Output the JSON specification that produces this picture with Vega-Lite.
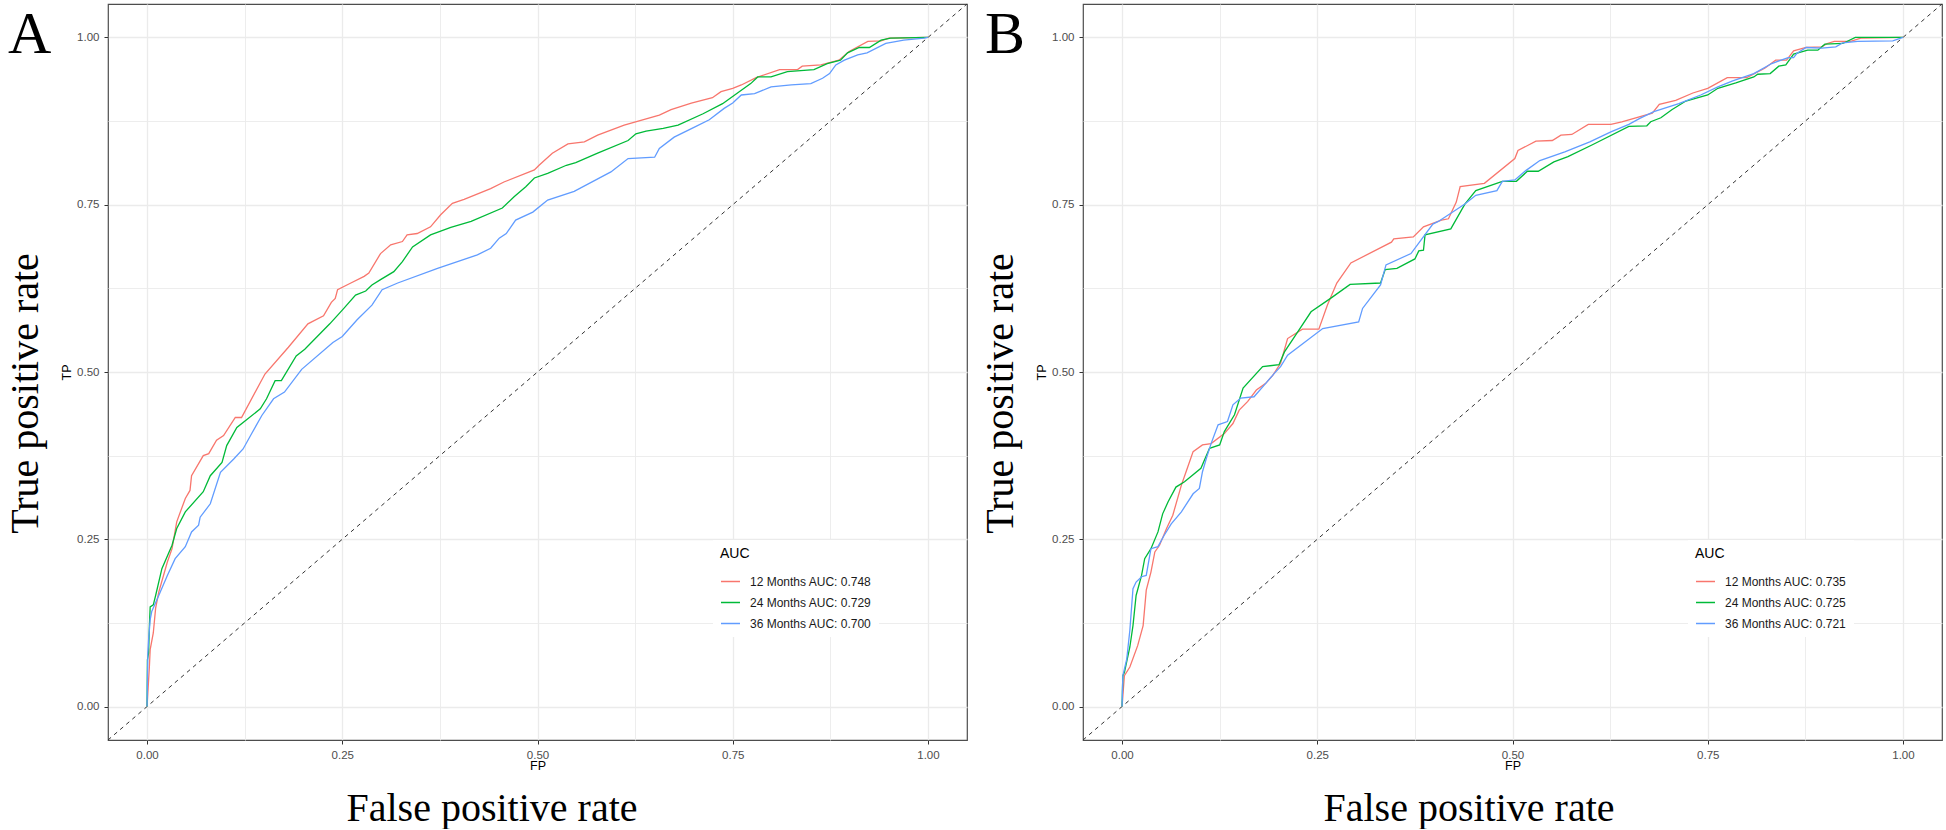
{
  "$schema": "https://vega.github.io/schema/vega-lite/v6.json",
  "background": "white",
  "padding": {"left": 4, "top": 1, "right": 0, "bottom": 0},
  "spacing": 9,
  "datasets": {
    "diag": [{"fp": -0.05, "tp": -0.05}, {"fp": 1.05, "tp": 1.05}],
    "rocA": [
      {"s": "12 Months AUC: 0.748", "fp": 0, "tp": 0},
      {"s": "12 Months AUC: 0.748", "fp": 0.001, "tp": 0.02},
      {"s": "12 Months AUC: 0.748", "fp": 0.003, "tp": 0.06},
      {"s": "12 Months AUC: 0.748", "fp": 0.004, "tp": 0.085},
      {"s": "12 Months AUC: 0.748", "fp": 0.008, "tp": 0.11},
      {"s": "12 Months AUC: 0.748", "fp": 0.011, "tp": 0.147},
      {"s": "12 Months AUC: 0.748", "fp": 0.015, "tp": 0.171},
      {"s": "12 Months AUC: 0.748", "fp": 0.026, "tp": 0.216},
      {"s": "12 Months AUC: 0.748", "fp": 0.032, "tp": 0.236},
      {"s": "12 Months AUC: 0.748", "fp": 0.038, "tp": 0.276},
      {"s": "12 Months AUC: 0.748", "fp": 0.049, "tp": 0.311},
      {"s": "12 Months AUC: 0.748", "fp": 0.055, "tp": 0.323},
      {"s": "12 Months AUC: 0.748", "fp": 0.057, "tp": 0.345},
      {"s": "12 Months AUC: 0.748", "fp": 0.072, "tp": 0.375},
      {"s": "12 Months AUC: 0.748", "fp": 0.079, "tp": 0.378},
      {"s": "12 Months AUC: 0.748", "fp": 0.089, "tp": 0.398},
      {"s": "12 Months AUC: 0.748", "fp": 0.098, "tp": 0.405},
      {"s": "12 Months AUC: 0.748", "fp": 0.113, "tp": 0.432},
      {"s": "12 Months AUC: 0.748", "fp": 0.121, "tp": 0.432},
      {"s": "12 Months AUC: 0.748", "fp": 0.151, "tp": 0.497},
      {"s": "12 Months AUC: 0.748", "fp": 0.181, "tp": 0.537},
      {"s": "12 Months AUC: 0.748", "fp": 0.206, "tp": 0.572},
      {"s": "12 Months AUC: 0.748", "fp": 0.226, "tp": 0.584},
      {"s": "12 Months AUC: 0.748", "fp": 0.236, "tp": 0.604},
      {"s": "12 Months AUC: 0.748", "fp": 0.241, "tp": 0.61},
      {"s": "12 Months AUC: 0.748", "fp": 0.244, "tp": 0.623},
      {"s": "12 Months AUC: 0.748", "fp": 0.261, "tp": 0.633},
      {"s": "12 Months AUC: 0.748", "fp": 0.278, "tp": 0.643},
      {"s": "12 Months AUC: 0.748", "fp": 0.284, "tp": 0.648},
      {"s": "12 Months AUC: 0.748", "fp": 0.299, "tp": 0.677},
      {"s": "12 Months AUC: 0.748", "fp": 0.312, "tp": 0.69},
      {"s": "12 Months AUC: 0.748", "fp": 0.327, "tp": 0.695},
      {"s": "12 Months AUC: 0.748", "fp": 0.333, "tp": 0.705},
      {"s": "12 Months AUC: 0.748", "fp": 0.346, "tp": 0.707},
      {"s": "12 Months AUC: 0.748", "fp": 0.363, "tp": 0.717},
      {"s": "12 Months AUC: 0.748", "fp": 0.376, "tp": 0.735},
      {"s": "12 Months AUC: 0.748", "fp": 0.391, "tp": 0.752},
      {"s": "12 Months AUC: 0.748", "fp": 0.406, "tp": 0.758},
      {"s": "12 Months AUC: 0.748", "fp": 0.44, "tp": 0.774},
      {"s": "12 Months AUC: 0.748", "fp": 0.457, "tp": 0.784},
      {"s": "12 Months AUC: 0.748", "fp": 0.496, "tp": 0.802},
      {"s": "12 Months AUC: 0.748", "fp": 0.502, "tp": 0.809},
      {"s": "12 Months AUC: 0.748", "fp": 0.519, "tp": 0.827},
      {"s": "12 Months AUC: 0.748", "fp": 0.539, "tp": 0.841},
      {"s": "12 Months AUC: 0.748", "fp": 0.56, "tp": 0.844},
      {"s": "12 Months AUC: 0.748", "fp": 0.577, "tp": 0.854},
      {"s": "12 Months AUC: 0.748", "fp": 0.611, "tp": 0.869},
      {"s": "12 Months AUC: 0.748", "fp": 0.656, "tp": 0.884},
      {"s": "12 Months AUC: 0.748", "fp": 0.671, "tp": 0.892},
      {"s": "12 Months AUC: 0.748", "fp": 0.697, "tp": 0.902},
      {"s": "12 Months AUC: 0.748", "fp": 0.724, "tp": 0.91},
      {"s": "12 Months AUC: 0.748", "fp": 0.735, "tp": 0.919},
      {"s": "12 Months AUC: 0.748", "fp": 0.75, "tp": 0.924},
      {"s": "12 Months AUC: 0.748", "fp": 0.761, "tp": 0.929},
      {"s": "12 Months AUC: 0.748", "fp": 0.78, "tp": 0.94},
      {"s": "12 Months AUC: 0.748", "fp": 0.81, "tp": 0.952},
      {"s": "12 Months AUC: 0.748", "fp": 0.833, "tp": 0.952},
      {"s": "12 Months AUC: 0.748", "fp": 0.839, "tp": 0.957},
      {"s": "12 Months AUC: 0.748", "fp": 0.863, "tp": 0.959},
      {"s": "12 Months AUC: 0.748", "fp": 0.886, "tp": 0.966},
      {"s": "12 Months AUC: 0.748", "fp": 0.899, "tp": 0.979},
      {"s": "12 Months AUC: 0.748", "fp": 0.923, "tp": 0.994},
      {"s": "12 Months AUC: 0.748", "fp": 0.94, "tp": 0.995},
      {"s": "12 Months AUC: 0.748", "fp": 0.95, "tp": 0.999},
      {"s": "12 Months AUC: 0.748", "fp": 1, "tp": 1},
      {"s": "24 Months AUC: 0.729", "fp": 0, "tp": 0},
      {"s": "24 Months AUC: 0.729", "fp": 0.0005, "tp": 0.07},
      {"s": "24 Months AUC: 0.729", "fp": 0.002, "tp": 0.08},
      {"s": "24 Months AUC: 0.729", "fp": 0.003, "tp": 0.12},
      {"s": "24 Months AUC: 0.729", "fp": 0.004, "tp": 0.149},
      {"s": "24 Months AUC: 0.729", "fp": 0.008, "tp": 0.152},
      {"s": "24 Months AUC: 0.729", "fp": 0.011, "tp": 0.166},
      {"s": "24 Months AUC: 0.729", "fp": 0.019, "tp": 0.206},
      {"s": "24 Months AUC: 0.729", "fp": 0.032, "tp": 0.241},
      {"s": "24 Months AUC: 0.729", "fp": 0.038, "tp": 0.266},
      {"s": "24 Months AUC: 0.729", "fp": 0.049, "tp": 0.291},
      {"s": "24 Months AUC: 0.729", "fp": 0.072, "tp": 0.321},
      {"s": "24 Months AUC: 0.729", "fp": 0.081, "tp": 0.345},
      {"s": "24 Months AUC: 0.729", "fp": 0.096, "tp": 0.365},
      {"s": "24 Months AUC: 0.729", "fp": 0.102, "tp": 0.39},
      {"s": "24 Months AUC: 0.729", "fp": 0.115, "tp": 0.417},
      {"s": "24 Months AUC: 0.729", "fp": 0.145, "tp": 0.445},
      {"s": "24 Months AUC: 0.729", "fp": 0.153, "tp": 0.46},
      {"s": "24 Months AUC: 0.729", "fp": 0.164, "tp": 0.487},
      {"s": "24 Months AUC: 0.729", "fp": 0.172, "tp": 0.487},
      {"s": "24 Months AUC: 0.729", "fp": 0.191, "tp": 0.524},
      {"s": "24 Months AUC: 0.729", "fp": 0.202, "tp": 0.534},
      {"s": "24 Months AUC: 0.729", "fp": 0.234, "tp": 0.572},
      {"s": "24 Months AUC: 0.729", "fp": 0.252, "tp": 0.595},
      {"s": "24 Months AUC: 0.729", "fp": 0.267, "tp": 0.615},
      {"s": "24 Months AUC: 0.729", "fp": 0.28, "tp": 0.621},
      {"s": "24 Months AUC: 0.729", "fp": 0.288, "tp": 0.63},
      {"s": "24 Months AUC: 0.729", "fp": 0.299, "tp": 0.638},
      {"s": "24 Months AUC: 0.729", "fp": 0.316, "tp": 0.65},
      {"s": "24 Months AUC: 0.729", "fp": 0.327, "tp": 0.665},
      {"s": "24 Months AUC: 0.729", "fp": 0.34, "tp": 0.687},
      {"s": "24 Months AUC: 0.729", "fp": 0.363, "tp": 0.705},
      {"s": "24 Months AUC: 0.729", "fp": 0.389, "tp": 0.716},
      {"s": "24 Months AUC: 0.729", "fp": 0.415, "tp": 0.725},
      {"s": "24 Months AUC: 0.729", "fp": 0.455, "tp": 0.745},
      {"s": "24 Months AUC: 0.729", "fp": 0.47, "tp": 0.762},
      {"s": "24 Months AUC: 0.729", "fp": 0.485, "tp": 0.777},
      {"s": "24 Months AUC: 0.729", "fp": 0.496, "tp": 0.79},
      {"s": "24 Months AUC: 0.729", "fp": 0.513, "tp": 0.797},
      {"s": "24 Months AUC: 0.729", "fp": 0.537, "tp": 0.809},
      {"s": "24 Months AUC: 0.729", "fp": 0.549, "tp": 0.813},
      {"s": "24 Months AUC: 0.729", "fp": 0.577, "tp": 0.827},
      {"s": "24 Months AUC: 0.729", "fp": 0.616, "tp": 0.846},
      {"s": "24 Months AUC: 0.729", "fp": 0.626, "tp": 0.856},
      {"s": "24 Months AUC: 0.729", "fp": 0.639, "tp": 0.86},
      {"s": "24 Months AUC: 0.729", "fp": 0.661, "tp": 0.864},
      {"s": "24 Months AUC: 0.729", "fp": 0.68, "tp": 0.869},
      {"s": "24 Months AUC: 0.729", "fp": 0.712, "tp": 0.886},
      {"s": "24 Months AUC: 0.729", "fp": 0.737, "tp": 0.901},
      {"s": "24 Months AUC: 0.729", "fp": 0.773, "tp": 0.931},
      {"s": "24 Months AUC: 0.729", "fp": 0.782, "tp": 0.941},
      {"s": "24 Months AUC: 0.729", "fp": 0.799, "tp": 0.941},
      {"s": "24 Months AUC: 0.729", "fp": 0.82, "tp": 0.949},
      {"s": "24 Months AUC: 0.729", "fp": 0.854, "tp": 0.952},
      {"s": "24 Months AUC: 0.729", "fp": 0.871, "tp": 0.961},
      {"s": "24 Months AUC: 0.729", "fp": 0.888, "tp": 0.966},
      {"s": "24 Months AUC: 0.729", "fp": 0.897, "tp": 0.977},
      {"s": "24 Months AUC: 0.729", "fp": 0.912, "tp": 0.985},
      {"s": "24 Months AUC: 0.729", "fp": 0.925, "tp": 0.985},
      {"s": "24 Months AUC: 0.729", "fp": 0.94, "tp": 0.996},
      {"s": "24 Months AUC: 0.729", "fp": 0.952, "tp": 0.999},
      {"s": "24 Months AUC: 0.729", "fp": 1, "tp": 1},
      {"s": "36 Months AUC: 0.700", "fp": 0, "tp": 0},
      {"s": "36 Months AUC: 0.700", "fp": 0.001, "tp": 0.08},
      {"s": "36 Months AUC: 0.700", "fp": 0.002, "tp": 0.1},
      {"s": "36 Months AUC: 0.700", "fp": 0.004, "tp": 0.13},
      {"s": "36 Months AUC: 0.700", "fp": 0.006, "tp": 0.142},
      {"s": "36 Months AUC: 0.700", "fp": 0.015, "tp": 0.166},
      {"s": "36 Months AUC: 0.700", "fp": 0.026, "tp": 0.196},
      {"s": "36 Months AUC: 0.700", "fp": 0.036, "tp": 0.221},
      {"s": "36 Months AUC: 0.700", "fp": 0.049, "tp": 0.239},
      {"s": "36 Months AUC: 0.700", "fp": 0.057, "tp": 0.261},
      {"s": "36 Months AUC: 0.700", "fp": 0.066, "tp": 0.271},
      {"s": "36 Months AUC: 0.700", "fp": 0.068, "tp": 0.283},
      {"s": "36 Months AUC: 0.700", "fp": 0.081, "tp": 0.303},
      {"s": "36 Months AUC: 0.700", "fp": 0.094, "tp": 0.35},
      {"s": "36 Months AUC: 0.700", "fp": 0.111, "tp": 0.37},
      {"s": "36 Months AUC: 0.700", "fp": 0.123, "tp": 0.385},
      {"s": "36 Months AUC: 0.700", "fp": 0.134, "tp": 0.408},
      {"s": "36 Months AUC: 0.700", "fp": 0.147, "tp": 0.435},
      {"s": "36 Months AUC: 0.700", "fp": 0.162, "tp": 0.46},
      {"s": "36 Months AUC: 0.700", "fp": 0.176, "tp": 0.47},
      {"s": "36 Months AUC: 0.700", "fp": 0.198, "tp": 0.504},
      {"s": "36 Months AUC: 0.700", "fp": 0.238, "tp": 0.544},
      {"s": "36 Months AUC: 0.700", "fp": 0.25, "tp": 0.553},
      {"s": "36 Months AUC: 0.700", "fp": 0.269, "tp": 0.578},
      {"s": "36 Months AUC: 0.700", "fp": 0.288, "tp": 0.6},
      {"s": "36 Months AUC: 0.700", "fp": 0.301, "tp": 0.623},
      {"s": "36 Months AUC: 0.700", "fp": 0.321, "tp": 0.633},
      {"s": "36 Months AUC: 0.700", "fp": 0.372, "tp": 0.655},
      {"s": "36 Months AUC: 0.700", "fp": 0.423, "tp": 0.675},
      {"s": "36 Months AUC: 0.700", "fp": 0.44, "tp": 0.685},
      {"s": "36 Months AUC: 0.700", "fp": 0.451, "tp": 0.7},
      {"s": "36 Months AUC: 0.700", "fp": 0.46, "tp": 0.707},
      {"s": "36 Months AUC: 0.700", "fp": 0.472, "tp": 0.727},
      {"s": "36 Months AUC: 0.700", "fp": 0.494, "tp": 0.739},
      {"s": "36 Months AUC: 0.700", "fp": 0.513, "tp": 0.757},
      {"s": "36 Months AUC: 0.700", "fp": 0.547, "tp": 0.77},
      {"s": "36 Months AUC: 0.700", "fp": 0.594, "tp": 0.799},
      {"s": "36 Months AUC: 0.700", "fp": 0.616, "tp": 0.819},
      {"s": "36 Months AUC: 0.700", "fp": 0.65, "tp": 0.821},
      {"s": "36 Months AUC: 0.700", "fp": 0.656, "tp": 0.834},
      {"s": "36 Months AUC: 0.700", "fp": 0.675, "tp": 0.851},
      {"s": "36 Months AUC: 0.700", "fp": 0.701, "tp": 0.866},
      {"s": "36 Months AUC: 0.700", "fp": 0.72, "tp": 0.877},
      {"s": "36 Months AUC: 0.700", "fp": 0.739, "tp": 0.894},
      {"s": "36 Months AUC: 0.700", "fp": 0.75, "tp": 0.902},
      {"s": "36 Months AUC: 0.700", "fp": 0.761, "tp": 0.914},
      {"s": "36 Months AUC: 0.700", "fp": 0.778, "tp": 0.916},
      {"s": "36 Months AUC: 0.700", "fp": 0.799, "tp": 0.926},
      {"s": "36 Months AUC: 0.700", "fp": 0.825, "tp": 0.929},
      {"s": "36 Months AUC: 0.700", "fp": 0.85, "tp": 0.931},
      {"s": "36 Months AUC: 0.700", "fp": 0.865, "tp": 0.939},
      {"s": "36 Months AUC: 0.700", "fp": 0.874, "tp": 0.946},
      {"s": "36 Months AUC: 0.700", "fp": 0.882, "tp": 0.959},
      {"s": "36 Months AUC: 0.700", "fp": 0.893, "tp": 0.966},
      {"s": "36 Months AUC: 0.700", "fp": 0.91, "tp": 0.974},
      {"s": "36 Months AUC: 0.700", "fp": 0.922, "tp": 0.977},
      {"s": "36 Months AUC: 0.700", "fp": 0.946, "tp": 0.991},
      {"s": "36 Months AUC: 0.700", "fp": 0.969, "tp": 0.996},
      {"s": "36 Months AUC: 0.700", "fp": 0.995, "tp": 0.999},
      {"s": "36 Months AUC: 0.700", "fp": 1, "tp": 1}
    ],
    "rocB": [
      {"s": "12 Months AUC: 0.735", "fp": 0, "tp": 0},
      {"s": "12 Months AUC: 0.735", "fp": 0.003, "tp": 0.046},
      {"s": "12 Months AUC: 0.735", "fp": 0.01, "tp": 0.059},
      {"s": "12 Months AUC: 0.735", "fp": 0.02, "tp": 0.091},
      {"s": "12 Months AUC: 0.735", "fp": 0.027, "tp": 0.121},
      {"s": "12 Months AUC: 0.735", "fp": 0.031, "tp": 0.174},
      {"s": "12 Months AUC: 0.735", "fp": 0.037, "tp": 0.201},
      {"s": "12 Months AUC: 0.735", "fp": 0.042, "tp": 0.231},
      {"s": "12 Months AUC: 0.735", "fp": 0.048, "tp": 0.241},
      {"s": "12 Months AUC: 0.735", "fp": 0.057, "tp": 0.266},
      {"s": "12 Months AUC: 0.735", "fp": 0.065, "tp": 0.286},
      {"s": "12 Months AUC: 0.735", "fp": 0.076, "tp": 0.331},
      {"s": "12 Months AUC: 0.735", "fp": 0.082, "tp": 0.351},
      {"s": "12 Months AUC: 0.735", "fp": 0.091, "tp": 0.381},
      {"s": "12 Months AUC: 0.735", "fp": 0.103, "tp": 0.391},
      {"s": "12 Months AUC: 0.735", "fp": 0.114, "tp": 0.393},
      {"s": "12 Months AUC: 0.735", "fp": 0.131, "tp": 0.408},
      {"s": "12 Months AUC: 0.735", "fp": 0.142, "tp": 0.423},
      {"s": "12 Months AUC: 0.735", "fp": 0.15, "tp": 0.443},
      {"s": "12 Months AUC: 0.735", "fp": 0.161, "tp": 0.456},
      {"s": "12 Months AUC: 0.735", "fp": 0.172, "tp": 0.473},
      {"s": "12 Months AUC: 0.735", "fp": 0.184, "tp": 0.483},
      {"s": "12 Months AUC: 0.735", "fp": 0.193, "tp": 0.495},
      {"s": "12 Months AUC: 0.735", "fp": 0.203, "tp": 0.513},
      {"s": "12 Months AUC: 0.735", "fp": 0.212, "tp": 0.55},
      {"s": "12 Months AUC: 0.735", "fp": 0.231, "tp": 0.564},
      {"s": "12 Months AUC: 0.735", "fp": 0.252, "tp": 0.564},
      {"s": "12 Months AUC: 0.735", "fp": 0.263, "tp": 0.6},
      {"s": "12 Months AUC: 0.735", "fp": 0.275, "tp": 0.633},
      {"s": "12 Months AUC: 0.735", "fp": 0.293, "tp": 0.663},
      {"s": "12 Months AUC: 0.735", "fp": 0.345, "tp": 0.694},
      {"s": "12 Months AUC: 0.735", "fp": 0.348, "tp": 0.699},
      {"s": "12 Months AUC: 0.735", "fp": 0.373, "tp": 0.702},
      {"s": "12 Months AUC: 0.735", "fp": 0.386, "tp": 0.717},
      {"s": "12 Months AUC: 0.735", "fp": 0.409, "tp": 0.727},
      {"s": "12 Months AUC: 0.735", "fp": 0.418, "tp": 0.729},
      {"s": "12 Months AUC: 0.735", "fp": 0.428, "tp": 0.754},
      {"s": "12 Months AUC: 0.735", "fp": 0.433, "tp": 0.777},
      {"s": "12 Months AUC: 0.735", "fp": 0.464, "tp": 0.782},
      {"s": "12 Months AUC: 0.735", "fp": 0.503, "tp": 0.819},
      {"s": "12 Months AUC: 0.735", "fp": 0.507, "tp": 0.831},
      {"s": "12 Months AUC: 0.735", "fp": 0.53, "tp": 0.845},
      {"s": "12 Months AUC: 0.735", "fp": 0.551, "tp": 0.846},
      {"s": "12 Months AUC: 0.735", "fp": 0.562, "tp": 0.854},
      {"s": "12 Months AUC: 0.735", "fp": 0.576, "tp": 0.855},
      {"s": "12 Months AUC: 0.735", "fp": 0.597, "tp": 0.87},
      {"s": "12 Months AUC: 0.735", "fp": 0.626, "tp": 0.87},
      {"s": "12 Months AUC: 0.735", "fp": 0.64, "tp": 0.874},
      {"s": "12 Months AUC: 0.735", "fp": 0.679, "tp": 0.887},
      {"s": "12 Months AUC: 0.735", "fp": 0.688, "tp": 0.9},
      {"s": "12 Months AUC: 0.735", "fp": 0.709, "tp": 0.906},
      {"s": "12 Months AUC: 0.735", "fp": 0.731, "tp": 0.917},
      {"s": "12 Months AUC: 0.735", "fp": 0.75, "tp": 0.924},
      {"s": "12 Months AUC: 0.735", "fp": 0.775, "tp": 0.94},
      {"s": "12 Months AUC: 0.735", "fp": 0.8, "tp": 0.94},
      {"s": "12 Months AUC: 0.735", "fp": 0.823, "tp": 0.954},
      {"s": "12 Months AUC: 0.735", "fp": 0.837, "tp": 0.966},
      {"s": "12 Months AUC: 0.735", "fp": 0.851, "tp": 0.966},
      {"s": "12 Months AUC: 0.735", "fp": 0.86, "tp": 0.98},
      {"s": "12 Months AUC: 0.735", "fp": 0.876, "tp": 0.985},
      {"s": "12 Months AUC: 0.735", "fp": 0.896, "tp": 0.986},
      {"s": "12 Months AUC: 0.735", "fp": 0.903, "tp": 0.991},
      {"s": "12 Months AUC: 0.735", "fp": 0.912, "tp": 0.994},
      {"s": "12 Months AUC: 0.735", "fp": 0.933, "tp": 0.994},
      {"s": "12 Months AUC: 0.735", "fp": 0.946, "tp": 0.999},
      {"s": "12 Months AUC: 0.735", "fp": 1, "tp": 1},
      {"s": "24 Months AUC: 0.725", "fp": 0, "tp": 0},
      {"s": "24 Months AUC: 0.725", "fp": 0.001, "tp": 0.046},
      {"s": "24 Months AUC: 0.725", "fp": 0.003, "tp": 0.051},
      {"s": "24 Months AUC: 0.725", "fp": 0.01, "tp": 0.089},
      {"s": "24 Months AUC: 0.725", "fp": 0.014, "tp": 0.121},
      {"s": "24 Months AUC: 0.725", "fp": 0.018, "tp": 0.166},
      {"s": "24 Months AUC: 0.725", "fp": 0.025, "tp": 0.196},
      {"s": "24 Months AUC: 0.725", "fp": 0.029, "tp": 0.221},
      {"s": "24 Months AUC: 0.725", "fp": 0.037, "tp": 0.236},
      {"s": "24 Months AUC: 0.725", "fp": 0.046, "tp": 0.261},
      {"s": "24 Months AUC: 0.725", "fp": 0.052, "tp": 0.288},
      {"s": "24 Months AUC: 0.725", "fp": 0.059, "tp": 0.306},
      {"s": "24 Months AUC: 0.725", "fp": 0.069, "tp": 0.328},
      {"s": "24 Months AUC: 0.725", "fp": 0.08, "tp": 0.336},
      {"s": "24 Months AUC: 0.725", "fp": 0.101, "tp": 0.356},
      {"s": "24 Months AUC: 0.725", "fp": 0.112, "tp": 0.386},
      {"s": "24 Months AUC: 0.725", "fp": 0.125, "tp": 0.391},
      {"s": "24 Months AUC: 0.725", "fp": 0.131, "tp": 0.411},
      {"s": "24 Months AUC: 0.725", "fp": 0.144, "tp": 0.436},
      {"s": "24 Months AUC: 0.725", "fp": 0.155, "tp": 0.476},
      {"s": "24 Months AUC: 0.725", "fp": 0.18, "tp": 0.508},
      {"s": "24 Months AUC: 0.725", "fp": 0.201, "tp": 0.511},
      {"s": "24 Months AUC: 0.725", "fp": 0.208, "tp": 0.53},
      {"s": "24 Months AUC: 0.725", "fp": 0.225, "tp": 0.56},
      {"s": "24 Months AUC: 0.725", "fp": 0.242, "tp": 0.59},
      {"s": "24 Months AUC: 0.725", "fp": 0.267, "tp": 0.61},
      {"s": "24 Months AUC: 0.725", "fp": 0.292, "tp": 0.631},
      {"s": "24 Months AUC: 0.725", "fp": 0.331, "tp": 0.633},
      {"s": "24 Months AUC: 0.725", "fp": 0.337, "tp": 0.653},
      {"s": "24 Months AUC: 0.725", "fp": 0.352, "tp": 0.655},
      {"s": "24 Months AUC: 0.725", "fp": 0.375, "tp": 0.669},
      {"s": "24 Months AUC: 0.725", "fp": 0.38, "tp": 0.681},
      {"s": "24 Months AUC: 0.725", "fp": 0.386, "tp": 0.682},
      {"s": "24 Months AUC: 0.725", "fp": 0.388, "tp": 0.705},
      {"s": "24 Months AUC: 0.725", "fp": 0.421, "tp": 0.714},
      {"s": "24 Months AUC: 0.725", "fp": 0.439, "tp": 0.751},
      {"s": "24 Months AUC: 0.725", "fp": 0.453, "tp": 0.771},
      {"s": "24 Months AUC: 0.725", "fp": 0.487, "tp": 0.785},
      {"s": "24 Months AUC: 0.725", "fp": 0.505, "tp": 0.785},
      {"s": "24 Months AUC: 0.725", "fp": 0.519, "tp": 0.8},
      {"s": "24 Months AUC: 0.725", "fp": 0.533, "tp": 0.8},
      {"s": "24 Months AUC: 0.725", "fp": 0.553, "tp": 0.814},
      {"s": "24 Months AUC: 0.725", "fp": 0.571, "tp": 0.822},
      {"s": "24 Months AUC: 0.725", "fp": 0.603, "tp": 0.84},
      {"s": "24 Months AUC: 0.725", "fp": 0.649, "tp": 0.867},
      {"s": "24 Months AUC: 0.725", "fp": 0.672, "tp": 0.868},
      {"s": "24 Months AUC: 0.725", "fp": 0.677, "tp": 0.874},
      {"s": "24 Months AUC: 0.725", "fp": 0.69, "tp": 0.88},
      {"s": "24 Months AUC: 0.725", "fp": 0.704, "tp": 0.892},
      {"s": "24 Months AUC: 0.725", "fp": 0.722, "tp": 0.905},
      {"s": "24 Months AUC: 0.725", "fp": 0.75, "tp": 0.914},
      {"s": "24 Months AUC: 0.725", "fp": 0.763, "tp": 0.924},
      {"s": "24 Months AUC: 0.725", "fp": 0.786, "tp": 0.932},
      {"s": "24 Months AUC: 0.725", "fp": 0.809, "tp": 0.941},
      {"s": "24 Months AUC: 0.725", "fp": 0.814, "tp": 0.945},
      {"s": "24 Months AUC: 0.725", "fp": 0.83, "tp": 0.946},
      {"s": "24 Months AUC: 0.725", "fp": 0.841, "tp": 0.957},
      {"s": "24 Months AUC: 0.725", "fp": 0.85, "tp": 0.959},
      {"s": "24 Months AUC: 0.725", "fp": 0.86, "tp": 0.975},
      {"s": "24 Months AUC: 0.725", "fp": 0.878, "tp": 0.981},
      {"s": "24 Months AUC: 0.725", "fp": 0.891, "tp": 0.981},
      {"s": "24 Months AUC: 0.725", "fp": 0.9, "tp": 0.99},
      {"s": "24 Months AUC: 0.725", "fp": 0.923, "tp": 0.991},
      {"s": "24 Months AUC: 0.725", "fp": 0.939, "tp": 1},
      {"s": "24 Months AUC: 0.725", "fp": 1, "tp": 1},
      {"s": "36 Months AUC: 0.721", "fp": 0, "tp": 0},
      {"s": "36 Months AUC: 0.721", "fp": 0.001, "tp": 0.046},
      {"s": "36 Months AUC: 0.721", "fp": 0.006, "tp": 0.071},
      {"s": "36 Months AUC: 0.721", "fp": 0.01, "tp": 0.114},
      {"s": "36 Months AUC: 0.721", "fp": 0.014, "tp": 0.176},
      {"s": "36 Months AUC: 0.721", "fp": 0.018, "tp": 0.186},
      {"s": "36 Months AUC: 0.721", "fp": 0.025, "tp": 0.194},
      {"s": "36 Months AUC: 0.721", "fp": 0.031, "tp": 0.196},
      {"s": "36 Months AUC: 0.721", "fp": 0.037, "tp": 0.236},
      {"s": "36 Months AUC: 0.721", "fp": 0.046, "tp": 0.239},
      {"s": "36 Months AUC: 0.721", "fp": 0.054, "tp": 0.256},
      {"s": "36 Months AUC: 0.721", "fp": 0.063, "tp": 0.273},
      {"s": "36 Months AUC: 0.721", "fp": 0.076, "tp": 0.291},
      {"s": "36 Months AUC: 0.721", "fp": 0.091, "tp": 0.318},
      {"s": "36 Months AUC: 0.721", "fp": 0.099, "tp": 0.326},
      {"s": "36 Months AUC: 0.721", "fp": 0.103, "tp": 0.351},
      {"s": "36 Months AUC: 0.721", "fp": 0.108, "tp": 0.371},
      {"s": "36 Months AUC: 0.721", "fp": 0.114, "tp": 0.393},
      {"s": "36 Months AUC: 0.721", "fp": 0.123, "tp": 0.421},
      {"s": "36 Months AUC: 0.721", "fp": 0.135, "tp": 0.426},
      {"s": "36 Months AUC: 0.721", "fp": 0.142, "tp": 0.451},
      {"s": "36 Months AUC: 0.721", "fp": 0.152, "tp": 0.461},
      {"s": "36 Months AUC: 0.721", "fp": 0.169, "tp": 0.463},
      {"s": "36 Months AUC: 0.721", "fp": 0.184, "tp": 0.483},
      {"s": "36 Months AUC: 0.721", "fp": 0.195, "tp": 0.498},
      {"s": "36 Months AUC: 0.721", "fp": 0.203, "tp": 0.508},
      {"s": "36 Months AUC: 0.721", "fp": 0.212, "tp": 0.525},
      {"s": "36 Months AUC: 0.721", "fp": 0.257, "tp": 0.565},
      {"s": "36 Months AUC: 0.721", "fp": 0.303, "tp": 0.575},
      {"s": "36 Months AUC: 0.721", "fp": 0.308, "tp": 0.595},
      {"s": "36 Months AUC: 0.721", "fp": 0.331, "tp": 0.63},
      {"s": "36 Months AUC: 0.721", "fp": 0.338, "tp": 0.66},
      {"s": "36 Months AUC: 0.721", "fp": 0.37, "tp": 0.677},
      {"s": "36 Months AUC: 0.721", "fp": 0.398, "tp": 0.721},
      {"s": "36 Months AUC: 0.721", "fp": 0.405, "tp": 0.725},
      {"s": "36 Months AUC: 0.721", "fp": 0.439, "tp": 0.751},
      {"s": "36 Months AUC: 0.721", "fp": 0.453, "tp": 0.764},
      {"s": "36 Months AUC: 0.721", "fp": 0.48, "tp": 0.771},
      {"s": "36 Months AUC: 0.721", "fp": 0.487, "tp": 0.785},
      {"s": "36 Months AUC: 0.721", "fp": 0.503, "tp": 0.787},
      {"s": "36 Months AUC: 0.721", "fp": 0.517, "tp": 0.801},
      {"s": "36 Months AUC: 0.721", "fp": 0.535, "tp": 0.816},
      {"s": "36 Months AUC: 0.721", "fp": 0.567, "tp": 0.829},
      {"s": "36 Months AUC: 0.721", "fp": 0.599, "tp": 0.844},
      {"s": "36 Months AUC: 0.721", "fp": 0.626, "tp": 0.859},
      {"s": "36 Months AUC: 0.721", "fp": 0.649, "tp": 0.87},
      {"s": "36 Months AUC: 0.721", "fp": 0.663, "tp": 0.879},
      {"s": "36 Months AUC: 0.721", "fp": 0.681, "tp": 0.889},
      {"s": "36 Months AUC: 0.721", "fp": 0.713, "tp": 0.901},
      {"s": "36 Months AUC: 0.721", "fp": 0.741, "tp": 0.914},
      {"s": "36 Months AUC: 0.721", "fp": 0.763, "tp": 0.926},
      {"s": "36 Months AUC: 0.721", "fp": 0.782, "tp": 0.935},
      {"s": "36 Months AUC: 0.721", "fp": 0.809, "tp": 0.946},
      {"s": "36 Months AUC: 0.721", "fp": 0.832, "tp": 0.961},
      {"s": "36 Months AUC: 0.721", "fp": 0.853, "tp": 0.97},
      {"s": "36 Months AUC: 0.721", "fp": 0.86, "tp": 0.97},
      {"s": "36 Months AUC: 0.721", "fp": 0.864, "tp": 0.976},
      {"s": "36 Months AUC: 0.721", "fp": 0.876, "tp": 0.985},
      {"s": "36 Months AUC: 0.721", "fp": 0.896, "tp": 0.984},
      {"s": "36 Months AUC: 0.721", "fp": 0.914, "tp": 0.986},
      {"s": "36 Months AUC: 0.721", "fp": 0.923, "tp": 0.992},
      {"s": "36 Months AUC: 0.721", "fp": 0.942, "tp": 0.994},
      {"s": "36 Months AUC: 0.721", "fp": 0.987, "tp": 0.995},
      {"s": "36 Months AUC: 0.721", "fp": 1, "tp": 1}
    ]
  },
  "resolve": {"scale": {"color": "independent"}, "legend": {"color": "independent"}},
  "hconcat": [
    {
      "width": 859,
      "height": 736,
      "title": {"text": "A", "orient": "top", "anchor": "start", "frame": "group", "font": "Liberation Serif", "fontSize": 60, "fontWeight": "normal", "color": "#000000", "dx": -100, "offset": -64},
      "resolve": {"scale": {"x": "independent", "y": "independent"}, "axis": {"x": "independent", "y": "independent"}},
      "layer": [
        {
          "data": {"name": "diag"},
          "mark": {"type": "line", "color": "#333333", "strokeWidth": 1, "strokeDash": [4, 4]},
          "encoding": {
            "x": {"field": "fp", "type": "quantitative", "scale": {"domain": [-0.05, 1.05], "nice": false, "zero": false},
              "axis": {"orient": "bottom", "values": [0.125, 0.375, 0.625, 0.875], "grid": true, "gridColor": "#EBEBEB", "gridWidth": 0.9, "labels": false, "ticks": false, "domain": false,
                "title": "False positive rate", "titleFont": "Liberation Serif", "titleFontSize": 40, "titleFontWeight": "normal", "titleColor": "#000000",
                "titleX": 238, "titleY": 80, "titleAlign": "left", "titleBaseline": "alphabetic", "titleAngle": 0}},
            "y": {"field": "tp", "type": "quantitative", "scale": {"domain": [-0.05, 1.05], "nice": false, "zero": false},
              "axis": {"orient": "left", "values": [0.125, 0.375, 0.625, 0.875], "grid": true, "gridColor": "#EBEBEB", "gridWidth": 0.9, "labels": false, "ticks": false, "domain": false,
                "title": "True positive rate", "titleFont": "Liberation Serif", "titleFontSize": 40, "titleFontWeight": "normal", "titleColor": "#000000",
                "titleX": -71, "titleY": 389, "titleAlign": "center", "titleBaseline": "alphabetic", "titleAngle": 270}}
          }
        },
        {
          "data": {"name": "rocA"},
          "mark": {"type": "line", "strokeWidth": 1.3},
          "encoding": {
            "x": {"field": "fp", "type": "quantitative", "scale": {"domain": [-0.05, 1.05], "nice": false, "zero": false},
              "axis": {"orient": "bottom", "values": [0, 0.25, 0.5, 0.75, 1], "format": ".2f", "grid": true, "gridColor": "#EBEBEB", "gridWidth": 1.3, "domain": false,
                "ticks": true, "tickColor": "#333333", "tickSize": 4, "tickWidth": 1, "labelFont": "Liberation Sans", "labelFontSize": 11.5, "labelColor": "#4D4D4D", "labelPadding": 5, "labelFlush": false, "labelOverlap": false,
                "title": "FP", "titleFont": "Liberation Sans", "titleFontSize": 12.5, "titleFontWeight": "normal", "titleColor": "#000000", "titleX": 429.5, "titleY": 19, "titleAlign": "center", "titleBaseline": "top"}},
            "y": {"field": "tp", "type": "quantitative", "scale": {"domain": [-0.05, 1.05], "nice": false, "zero": false},
              "axis": {"orient": "left", "values": [0, 0.25, 0.5, 0.75, 1], "format": ".2f", "grid": true, "gridColor": "#EBEBEB", "gridWidth": 1.3, "domain": false,
                "ticks": true, "tickColor": "#333333", "tickSize": 4, "tickWidth": 1, "labelFont": "Liberation Sans", "labelFontSize": 11.5, "labelColor": "#4D4D4D", "labelPadding": 5, "labelFlush": false, "labelOverlap": false,
                "title": "TP", "titleFont": "Liberation Sans", "titleFontSize": 12.5, "titleFontWeight": "normal", "titleColor": "#000000", "titleX": -42, "titleY": 368, "titleAlign": "center", "titleBaseline": "middle", "titleAngle": 270}},
            "color": {"field": "s", "type": "nominal",
              "scale": {"domain": ["12 Months AUC: 0.748", "24 Months AUC: 0.729", "36 Months AUC: 0.700"], "range": ["#F8766D", "#00BA38", "#619CFF"]},
              "legend": {"orient": "none", "legendX": 605, "legendY": 536, "title": "AUC", "titleFont": "Liberation Sans", "titleFontSize": 14, "titleFontWeight": "normal", "titleColor": "#000000", "titlePadding": 10,
                "labelFont": "Liberation Sans", "labelFontSize": 12, "labelColor": "#1A1A1A", "symbolType": "stroke", "symbolSize": 361, "symbolStrokeWidth": 1.5, "labelOffset": 9, "rowPadding": 4,
                "padding": 7, "fillColor": "#FFFFFF"}}
          }
        }
      ]
    },
    {
      "width": 859,
      "height": 736,
      "title": {"text": "B", "orient": "top", "anchor": "start", "frame": "group", "font": "Liberation Serif", "fontSize": 60, "fontWeight": "normal", "color": "#000000", "dx": -98, "offset": -64},
      "resolve": {"scale": {"x": "independent", "y": "independent"}, "axis": {"x": "independent", "y": "independent"}},
      "layer": [
        {
          "data": {"name": "diag"},
          "mark": {"type": "line", "color": "#333333", "strokeWidth": 1, "strokeDash": [4, 4]},
          "encoding": {
            "x": {"field": "fp", "type": "quantitative", "scale": {"domain": [-0.05, 1.05], "nice": false, "zero": false},
              "axis": {"orient": "bottom", "values": [0.125, 0.375, 0.625, 0.875], "grid": true, "gridColor": "#EBEBEB", "gridWidth": 0.9, "labels": false, "ticks": false, "domain": false,
                "title": "False positive rate", "titleFont": "Liberation Serif", "titleFontSize": 40, "titleFontWeight": "normal", "titleColor": "#000000",
                "titleX": 240, "titleY": 80, "titleAlign": "left", "titleBaseline": "alphabetic", "titleAngle": 0}},
            "y": {"field": "tp", "type": "quantitative", "scale": {"domain": [-0.05, 1.05], "nice": false, "zero": false},
              "axis": {"orient": "left", "values": [0.125, 0.375, 0.625, 0.875], "grid": true, "gridColor": "#EBEBEB", "gridWidth": 0.9, "labels": false, "ticks": false, "domain": false,
                "title": "True positive rate", "titleFont": "Liberation Serif", "titleFontSize": 40, "titleFontWeight": "normal", "titleColor": "#000000",
                "titleX": -71, "titleY": 389, "titleAlign": "center", "titleBaseline": "alphabetic", "titleAngle": 270}}
          }
        },
        {
          "data": {"name": "rocB"},
          "mark": {"type": "line", "strokeWidth": 1.3},
          "encoding": {
            "x": {"field": "fp", "type": "quantitative", "scale": {"domain": [-0.05, 1.05], "nice": false, "zero": false},
              "axis": {"orient": "bottom", "values": [0, 0.25, 0.5, 0.75, 1], "format": ".2f", "grid": true, "gridColor": "#EBEBEB", "gridWidth": 1.3, "domain": false,
                "ticks": true, "tickColor": "#333333", "tickSize": 4, "tickWidth": 1, "labelFont": "Liberation Sans", "labelFontSize": 11.5, "labelColor": "#4D4D4D", "labelPadding": 5, "labelFlush": false, "labelOverlap": false,
                "title": "FP", "titleFont": "Liberation Sans", "titleFontSize": 12.5, "titleFontWeight": "normal", "titleColor": "#000000", "titleX": 429.5, "titleY": 19, "titleAlign": "center", "titleBaseline": "top"}},
            "y": {"field": "tp", "type": "quantitative", "scale": {"domain": [-0.05, 1.05], "nice": false, "zero": false},
              "axis": {"orient": "left", "values": [0, 0.25, 0.5, 0.75, 1], "format": ".2f", "grid": true, "gridColor": "#EBEBEB", "gridWidth": 1.3, "domain": false,
                "ticks": true, "tickColor": "#333333", "tickSize": 4, "tickWidth": 1, "labelFont": "Liberation Sans", "labelFontSize": 11.5, "labelColor": "#4D4D4D", "labelPadding": 5, "labelFlush": false, "labelOverlap": false,
                "title": "TP", "titleFont": "Liberation Sans", "titleFontSize": 12.5, "titleFontWeight": "normal", "titleColor": "#000000", "titleX": -42, "titleY": 368, "titleAlign": "center", "titleBaseline": "middle", "titleAngle": 270}},
            "color": {"field": "s", "type": "nominal",
              "scale": {"domain": ["12 Months AUC: 0.735", "24 Months AUC: 0.725", "36 Months AUC: 0.721"], "range": ["#F8766D", "#00BA38", "#619CFF"]},
              "legend": {"orient": "none", "legendX": 605, "legendY": 536, "title": "AUC", "titleFont": "Liberation Sans", "titleFontSize": 14, "titleFontWeight": "normal", "titleColor": "#000000", "titlePadding": 10,
                "labelFont": "Liberation Sans", "labelFontSize": 12, "labelColor": "#1A1A1A", "symbolType": "stroke", "symbolSize": 361, "symbolStrokeWidth": 1.5, "labelOffset": 9, "rowPadding": 4,
                "padding": 7, "fillColor": "#FFFFFF"}}
          }
        }
      ]
    }
  ],
  "config": {
    "view": {"stroke": "#4D4D4D", "strokeWidth": 1.2},
    "font": "Liberation Sans"
  }
}
